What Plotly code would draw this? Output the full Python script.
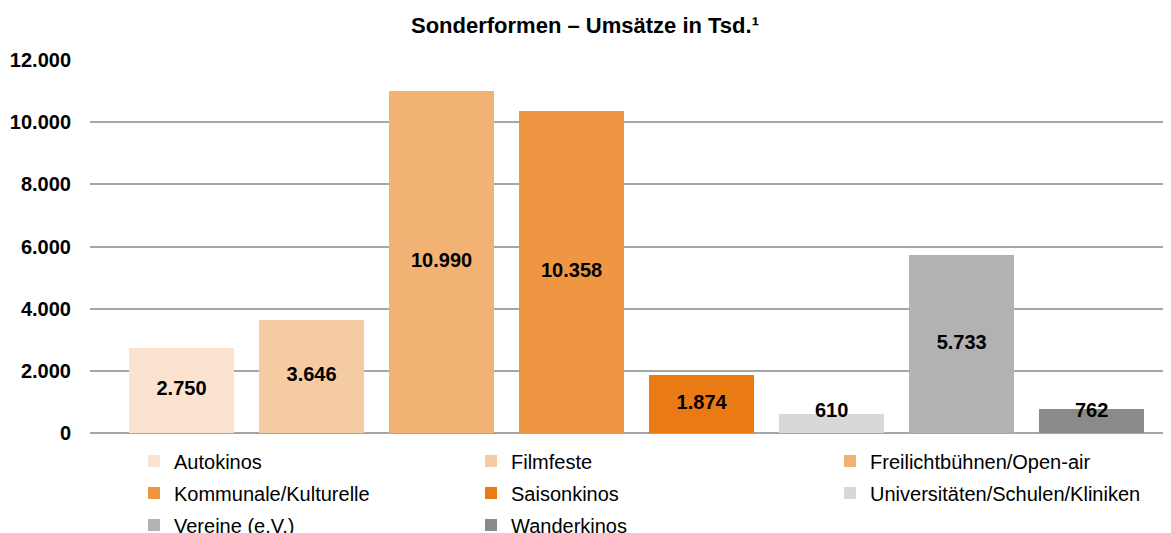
import plotly.graph_objects as go

categories = ["Autokinos", "Filmfeste", "Freilichtbühnen/Open-air", "Kommunale/Kulturelle",
              "Saisonkinos", "Universitäten/Schulen/Kliniken", "Vereine (e.V.)", "Wanderkinos"]
values = [2750, 3646, 10990, 10358, 1874, 610, 5733, 762]
value_labels = ["2.750", "3.646", "10.990", "10.358", "1.874", "610", "5.733", "762"]
colors = ["#FBE3D0", "#F5CBA2", "#F2B274", "#EE9641", "#E97A14", "#D7D8D7", "#B1B2B1", "#898B8B"]
tick_vals = [0, 2000, 4000, 6000, 8000, 10000, 12000]
tick_text = ["0", "2.000", "4.000", "6.000", "8.000", "10.000", "12.000"]

# the page body adds an 8px offset, so the figure is drawn 8px smaller
OFF = 8
W, H = 1171 - OFF, 533 - OFF
FONT = "Liberation Sans, Arial, sans-serif"

# legend cell positions (figure pixels): columns and rows
leg_cols = [126, 463, 822]
leg_rows = [461 - OFF, 493 - OFF, 525 - OFF]

fig = go.Figure()
for i, (c, v, col) in enumerate(zip(categories, values, colors)):
    lg = "legend" if i == 0 else f"legend{i+1}"
    fig.add_trace(go.Bar(
        x=[i], y=[v], name=c, marker=dict(color=col, line=dict(width=0)),
        width=0.81, legend=lg, showlegend=True,
    ))

label_y = [max(v / 2, 676) for v in values]
fig.add_trace(go.Scatter(
    x=list(range(len(values))), y=label_y, text=value_labels, mode="text",
    textfont=dict(family=FONT, size=20, color="#000000", weight="bold"), showlegend=False,
    hoverinfo="skip",
))

layout_legends = {}
for i in range(len(categories)):
    key = "legend" if i == 0 else f"legend{i+1}"
    r, cidx = divmod(i, 3)
    layout_legends[key] = dict(
        orientation="h", xref="container", yref="container",
        x=leg_cols[cidx] / W, y=1 - leg_rows[r] / H, xanchor="left", yanchor="middle",
        font=dict(family=FONT, size=20, color="#000000"),
        bgcolor="rgba(0,0,0,0)", borderwidth=0, itemwidth=30,
    )

fig.update_layout(
    width=W, height=H,
    paper_bgcolor="white", plot_bgcolor="white",
    margin=dict(l=90 - OFF, r=0, t=60 - OFF, b=H - (433 - OFF), autoexpand=False),
    title=dict(text="<b>Sonderformen – Umsätze in Tsd.¹</b>", x=(585 - OFF) / W, xanchor="center",
               y=1 - (25 - OFF) / H, yanchor="middle", xref="container", yref="container",
               font=dict(family=FONT, size=22, color="#000000")),
    xaxis=dict(range=[-0.704, 7.61], showticklabels=False, showgrid=False, zeroline=False,
               showline=False, ticks="", automargin=False),
    yaxis=dict(range=[0, 12000], tickvals=tick_vals, ticktext=tick_text,
               tickfont=dict(family=FONT, size=20, color="#000000", weight="bold"),
               showgrid=True, gridcolor="#A6A6A6", gridwidth=1.5, zeroline=True,
               zerolinecolor="#A6A6A6", zerolinewidth=1.5, showline=False, ticks="",
               ticklabelstandoff=18, automargin=False),
    bargap=0, showlegend=True,
    **layout_legends,
)

fig.write_html("out.html")
